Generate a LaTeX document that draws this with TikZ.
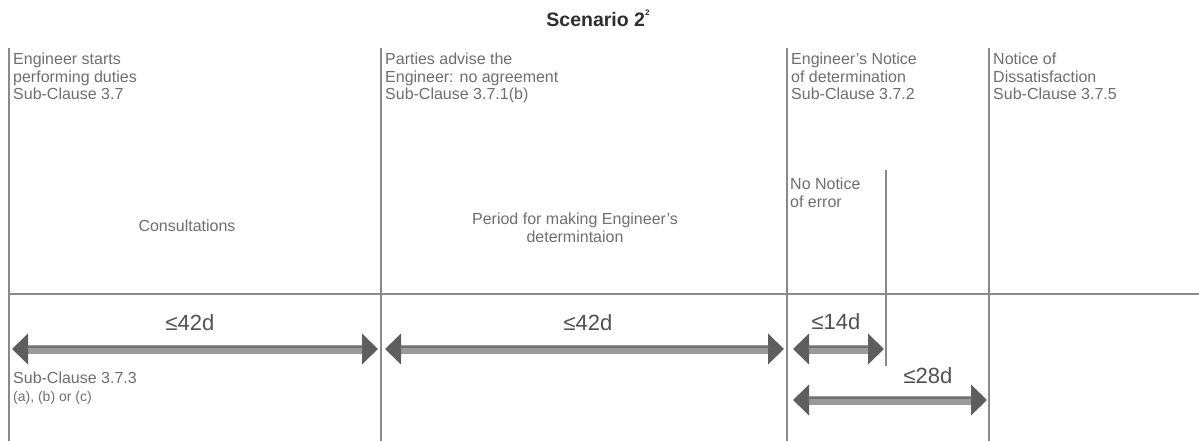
\documentclass[tikz,border=0pt]{standalone}
\usepackage{fontspec}
\setmainfont{Liberation Sans}
\usetikzlibrary{arrows.meta}
\definecolor{rulegray}{HTML}{8A8A8A}
\definecolor{txtgray}{HTML}{6E6E6E}
\definecolor{lblgray}{HTML}{505050}
\definecolor{shaftgray}{HTML}{9A9A9A}
\definecolor{stripegray}{HTML}{707070}
\definecolor{tipgray}{HTML}{5E5E5E}
\definecolor{titlegray}{HTML}{2E2E2E}

\begin{document}
\begin{tikzpicture}[x=1pt,y=-1pt,
  rule/.style={draw=rulegray, line width=1.1pt},
  headtext/.style={anchor=north west, align=left, inner sep=0pt,
    font=\fontsize{16}{17.5}\selectfont, text=txtgray},
  midtext/.style={align=center, inner sep=0pt,
    font=\fontsize{16}{17.5}\selectfont, text=txtgray},
  daylabel/.style={inner sep=0pt, font=\fontsize{22}{22}\selectfont, text=lblgray},
  period/.style={draw=shaftgray, line width=9pt,
    {Triangle[length=16pt,width=30pt,color=tipgray]}-{Triangle[length=16pt,width=30pt,color=tipgray]}},
  stripe/.style={draw=stripegray, line width=2pt, shorten <=15pt, shorten >=15pt,
    transform canvas={yshift=2.5pt}}
]
\useasboundingbox (0,0) rectangle (1199,441);

% title
\node[inner sep=0pt, font=\fontsize{19.5}{20}\selectfont\bfseries, text=titlegray]
  (title) at (598,18) {Scenario 2\raisebox{0.55em}{\fontsize{8}{8}\selectfont 2}};

% milestone rules
\coordinate (m1t) at (9,48);    \coordinate (m1b) at (9,441);
\coordinate (m2t) at (381,48);  \coordinate (m2b) at (381,441);
\coordinate (m3t) at (787,48);  \coordinate (m3b) at (787,441);
\coordinate (m4t) at (989,48);  \coordinate (m4b) at (989,441);
\coordinate (errt) at (886,170); \coordinate (errb) at (886,366);
\coordinate (axl) at (9,294);   \coordinate (axr) at (1199,294);

\draw[rule] (m1t) -- (m1b);
\draw[rule] (m2t) -- (m2b);
\draw[rule] (m3t) -- (m3b);
\draw[rule] (m4t) -- (m4b);
\draw[rule] (errt) -- (errb);
\draw[rule] (axl) -- (axr);

% milestone captions
\node[headtext] (h1) at (13,53) {Engineer starts\\performing duties\\Sub-Clause 3.7};
\node[headtext] (h2) at (385,53) {Parties advise the\\Engineer: no agreement\\Sub-Clause 3.7.1(b)};
\node[headtext] (h3) at (791,53) {Engineer's Notice\\of determination\\Sub-Clause 3.7.2};
\node[headtext] (h4) at (993,53) {Notice of\\Dissatisfaction\\Sub-Clause 3.7.5};
\node[headtext] (noerr) at (790,178) {No Notice\\of error};

% phase captions
\node[midtext] (cons) at (187,226) {Consultations};
\node[midtext] (make) at (575,228) {Period for making Engineer's\\determintaion};

% durations
\coordinate (p1l) at (12,349);  \coordinate (p1r) at (378,349);
\coordinate (p2l) at (385,349); \coordinate (p2r) at (784,349);
\coordinate (p3l) at (793,349); \coordinate (p3r) at (884,349);
\coordinate (p4l) at (793,400); \coordinate (p4r) at (987,400);

\foreach \a/\b in {p1l/p1r, p2l/p2r, p3l/p3r, p4l/p4r}{
  \draw[period] (\a) -- (\b);
  \draw[stripe] (\a) -- (\b);
}

\node[daylabel] (d1) at (190,323) {≤42d};
\node[daylabel] (d2) at (588,323) {≤42d};
\node[daylabel] (d3) at (836,322) {≤14d};
\node[daylabel] (d4) at (928,376) {≤28d};

\node[headtext] (sc) at (13,372) {Sub-Clause 3.7.3\\{\fontsize{14}{15}\selectfont (a), (b) or (c)}};
\end{tikzpicture}
\end{document}
